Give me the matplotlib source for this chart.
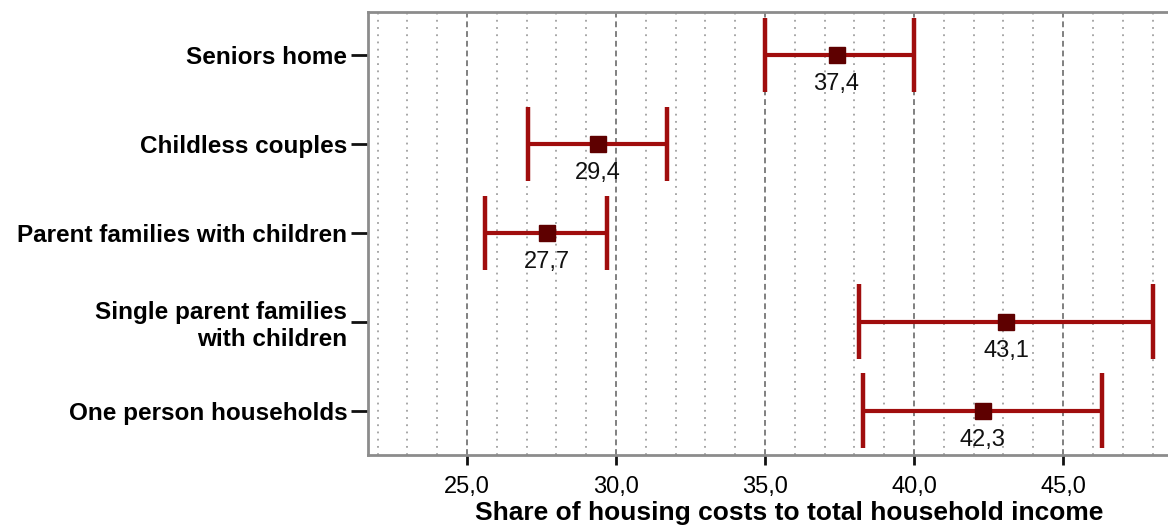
import numpy as np
import matplotlib.pyplot as plt

# ============================================
# DATA
# ============================================

groups = [
    "Seniors home",
    "Childless couples",
    "Parent families with children",
    "Single parent families\nwith children",
    "One person households",
]

share = [37.4, 29.4, 27.7, 43.1, 42.3]
low = [35.0, 27.05, 25.6, 38.15, 38.3]
high = [40.0, 31.7, 29.7, 48.0, 46.3]

value_labels = ["37,4", "29,4", "27,7", "43,1", "42,3"]

major_ticks = [25, 30, 35, 40, 45]
major_labels = ["25,0", "30,0", "35,0", "40,0", "45,0"]
minor_ticks = [22, 23, 24, 26, 27, 28, 29, 31, 32, 33, 34,
               36, 37, 38, 39, 41, 42, 43, 44, 46, 47, 48]

# ============================================
# STYLE
# ============================================

plt.rcParams["font.family"] = ["Liberation Sans", "DejaVu Sans"]

bar_color = "#a00d0d"
marker_color = "#5e0000"

fig = plt.figure(figsize=(11.68, 5.30), dpi=100)
ax = fig.add_axes([368 / 1168, 75 / 530, 800 / 1168, 443 / 530])

y = np.arange(len(groups))

# ============================================
# GRID
# ============================================

for t in minor_ticks:
    ax.axvline(t, color="#a0a0a0", linestyle=(0, (1, 3)), linewidth=1.3, zorder=0)
for t in major_ticks:
    ax.axvline(t, color="#808080", linestyle=(0, (3, 2)), linewidth=1.4, zorder=0)

# ============================================
# INTERVALS
# ============================================

cap = 0.42
ax.hlines(y, low, high, color=bar_color, linewidth=3, zorder=2)
ax.vlines(low, y - cap, y + cap, color=bar_color, linewidth=3.2, zorder=2)
ax.vlines(high, y - cap, y + cap, color=bar_color, linewidth=3.2, zorder=2)
ax.plot(share, y, linestyle="none", marker="s", markersize=11,
        color=marker_color, zorder=3)

for xi, yi, lab in zip(share, y, value_labels):
    ax.text(xi, yi + 0.33, lab, ha="center", va="center", fontsize=17,
            color="#111111", zorder=4)

# ============================================
# AXES
# ============================================

ax.set_xlim(21.68, 48.52)
ax.set_ylim(4.5, -0.485)

ax.set_yticks(y)
ax.set_yticklabels(groups, fontsize=17.5, fontweight="bold")
ax.tick_params(axis="y", length=12, width=2, pad=3, color="#111111")

ax.set_xticks(major_ticks)
ax.set_xticklabels(major_labels, fontsize=17)
ax.tick_params(axis="x", length=7, width=2, pad=8, color="#111111")

ax.set_xlabel("Share of housing costs to total household income",
              fontsize=19, fontweight="bold")
ax.xaxis.set_label_coords(0.526, -0.103)

for side in ["left", "top", "bottom"]:
    ax.spines[side].set_color("#8c8c8c")
    ax.spines[side].set_linewidth(2)
ax.spines["right"].set_visible(False)

plt.savefig("out.png", dpi=100)
